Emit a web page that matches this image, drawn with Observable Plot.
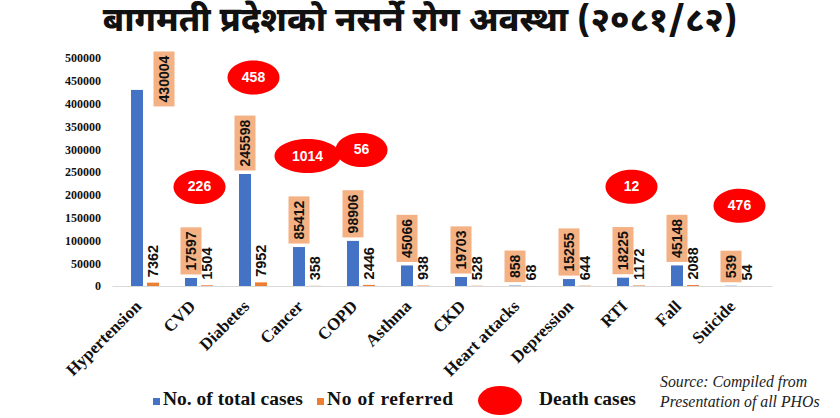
<!DOCTYPE html>
<html>
<head>
<meta charset="utf-8">
<script src="https://cdn.jsdelivr.net/npm/d3@7"></script>
<script src="https://cdn.jsdelivr.net/npm/@observablehq/plot@0.6"></script>
<style>
  body { margin: 0; background: #fff; }
  #wrap { position: relative; width: 840px; height: 418px; overflow: hidden; background: #fff; }
  #title { height: 45px; text-align: center; font-family: "Noto Sans Devanagari", "Lohit Devanagari", "Mukta", "Noto Sans", sans-serif; font-weight: 800; font-size: 34px; line-height: 46px; color: #111; white-space: nowrap; }
  #chart svg { display: block; }
  .leg { position: absolute; font-family: "Liberation Serif", "Times New Roman", serif; font-weight: 700; font-size: 19.5px; color: #111; white-space: nowrap; }
  .sw { position: absolute; width: 7px; height: 7px; }
  .src { position: absolute; left: 660px; font-family: "Liberation Serif", "Times New Roman", serif; font-style: italic; font-size: 15.8px; color: #222; white-space: nowrap; }
</style>
</head>
<body>
<div id="wrap">
  <div id="title">बागमती प्रदेशको नसर्ने रोग अवस्था (२०८१/८२)</div>
  <div id="chart"></div>
  <div class="sw" style="left:153px; top:398px; background:#4472C4"></div>
  <div class="leg" style="left:163px; top:388px;">No. of total cases</div>
  <div class="sw" style="left:317px; top:398px; background:#ED7D31"></div>
  <div class="leg" style="left:327px; top:388px; letter-spacing:0.6px;">No of referred</div>
  <div style="position:absolute; left:478px; top:386px; width:44px; height:29px; border-radius:50%; background:#FF0000"></div>
  <div class="leg" style="left:539px; top:388px;">Death cases</div>
  <div class="src" style="top:373px;">Source: Compiled from</div>
  <div class="src" style="top:393px;">Presentation of all PHOs</div>
</div>
<script>
const categories = ["Hypertension", "CVD", "Diabetes", "Cancer", "COPD", "Asthma", "CKD", "Heart attacks", "Depression", "RTI", "Fall", "Suicide"];
const totalCases = [430004, 17597, 245598, 85412, 98906, 45066, 19703, 858, 15255, 18225, 45148, 539];
const referredCases = [7362, 1504, 7952, 358, 2446, 938, 528, 68, 644, 1172, 2088, 54];
const deathCases = [null, 226, 458, 1014, 56, null, null, null, null, 12, null, 476];
const yTicks = [0, 50000, 100000, 150000, 200000, 250000, 300000, 350000, 400000, 450000, 500000];

const rows = categories.map((c, i) => ({category: c, total: totalCases[i], referred: referredCases[i], death: deathCases[i]}));
const maxTotal = d3.max(totalCases);
const deathRows = rows.filter(d => d.death != null);

const ellipse = {
  draw(context, size) {
    const rx = Math.sqrt(size / Math.PI), ry = 17, k = 0.5523;
    context.moveTo(rx, 0);
    context.bezierCurveTo(rx, ry * k, rx * k, ry, 0, ry);
    context.bezierCurveTo(-rx * k, ry, -rx, ry * k, -rx, 0);
    context.bezierCurveTo(-rx, -ry * k, -rx * k, -ry, 0, -ry);
    context.bezierCurveTo(rx * k, -ry, rx, -ry * k, rx, 0);
    context.closePath();
  }
};

const labelFont = {fontFamily: "Liberation Sans, Arial, sans-serif", fontWeight: "bold", fontSize: 14};

// death ellipses sit above the boxed total label, so lift them by the label length
const digitGroups = d3.groups(deathRows, d => String(d.total).length);
const deathMarks = digitGroups.flatMap(([len, group]) => {
  const lift = -(64 + 5.5 * len);
  return [
    Plot.dot(group, {x: "category", y: "total", dy: lift, r: d => d.death >= 1000 ? 33 : 26, symbol: ellipse, fill: "#FF0000", stroke: "none"}),
    Plot.text(group, {x: "category", y: "total", dy: lift, text: d => String(d.death), fill: "#fff", fontFamily: "Liberation Sans, Arial, sans-serif", fontWeight: "bold", fontSize: 14})
  ];
});

const chart = Plot.plot({
  width: 840,
  height: 340,
  marginLeft: 112.5,
  marginRight: 67.5,
  marginTop: 13,
  marginBottom: 99,
  style: {background: "transparent", color: "#111", overflow: "visible"},
  x: {domain: categories, paddingInner: 0.4727, paddingOuter: 0.2364, label: null},
  y: {domain: [0, 500000], label: null},
  r: {type: "identity"},
  marks: [
    Plot.axisY({ticks: yTicks, tickSize: 0, tickPadding: 12, tickFormat: d => String(d), fontFamily: "Liberation Serif, serif", fontWeight: "bold", fontSize: 12, label: null}),
    Plot.axisX({tickSize: 0, tickRotate: -45, tickPadding: 9, dx: -7, dy: 8, fontFamily: "Liberation Serif, serif", fontWeight: "bold", fontSize: 17, label: null}),
    Plot.barY(rows, {x: "category", y: "total", fill: "#4472C4", insetRight: 16}),
    Plot.barY(rows, {x: "category", y: "referred", fill: "#ED7D31", insetLeft: 16}),
    Plot.ruleY([0], {stroke: "#d9d9d9", strokeWidth: 1}),
    // total-case labels (first two text marks; boxed below)
    Plot.text(rows.filter(d => d.total !== maxTotal), {x: "category", y: "total", text: d => String(d.total), rotate: -90, textAnchor: "start", dx: -8, dy: -8, fill: "#111", ...labelFont}),
    Plot.text(rows.filter(d => d.total === maxTotal), {x: "category", y: "total", text: d => String(d.total), rotate: -90, textAnchor: "start", dx: 19, dy: 12, fill: "#111", ...labelFont}),
    // referred labels
    Plot.text(rows, {x: "category", y: "referred", text: d => String(d.referred), rotate: -90, textAnchor: "start", dx: 8, dy: -6, fill: "#111", ...labelFont, fontSize: 14.5}),
    ...deathMarks
  ]
});

document.getElementById("chart").append(chart);

// peach boxes behind the total-case labels, sized from the rendered text
const textGroups = chart.querySelectorAll('g[aria-label="text"]');
[textGroups[0], textGroups[1]].forEach(g => {
  if (!g) return;
  g.querySelectorAll("text").forEach(t => {
    const b = t.getBBox();
    const pad = 4, h = 21;
    const rect = document.createElementNS("http://www.w3.org/2000/svg", "rect");
    rect.setAttribute("x", b.x - pad);
    rect.setAttribute("y", -h / 2 - 0.5);
    rect.setAttribute("width", b.width + 2 * pad);
    rect.setAttribute("height", h);
    rect.setAttribute("fill", "#F4B183");
    const tr = t.getAttribute("transform");
    if (tr) rect.setAttribute("transform", tr);
    t.parentNode.insertBefore(rect, t);
  });
});
</script>
</body>
</html>
